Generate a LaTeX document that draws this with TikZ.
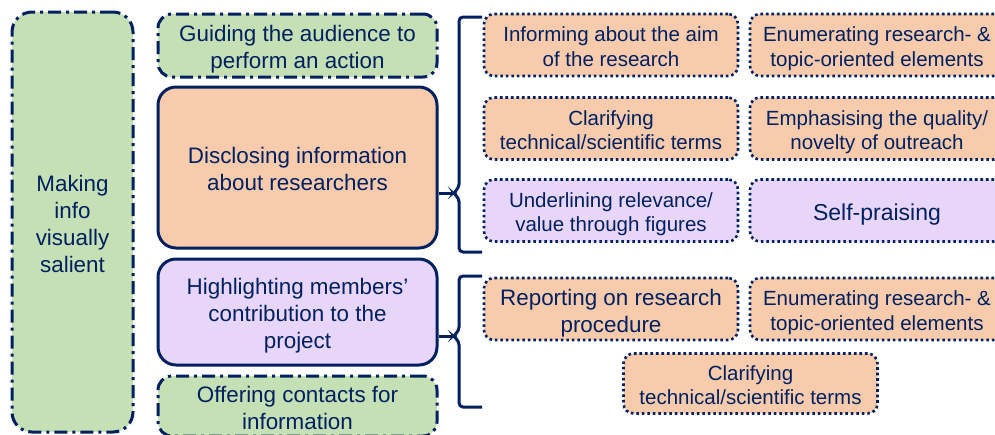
\documentclass[tikz,border=0pt]{standalone}
\usepackage{fontspec}
\setmainfont{Liberation Sans}
\definecolor{navy}{HTML}{002060}
\definecolor{grn}{HTML}{C5E0B4}
\definecolor{org}{HTML}{F8CBAD}
\definecolor{lil}{HTML}{E8D6FA}
% full ascent / descent of a text line
\newcommand{\lineasc}{\rule{0pt}{1.1em}}
\newcommand{\linedesc}{\rule[-0.212em]{0pt}{0pt}}

\begin{document}
\begin{tikzpicture}[
  x=1pt,y=-1pt,
  every node/.style={text=navy,align=center,inner sep=0pt},
  big/.style={font=\fontsize{22.4}{27}\selectfont},
  small/.style={font=\fontsize{20.5}{24.5}\selectfont},
  solidbox/.style={draw=navy,line width=3pt,rounded corners=18pt,
                   minimum width=279pt},
  dashbox/.style={draw=navy,line width=3pt,rounded corners=14pt,fill=grn,
                  dash pattern=on 13pt off 5pt on 3pt off 5pt},
  dotbox/.style={draw=navy,line width=2.6pt,rounded corners=10pt,
                 dash pattern=on 2.6pt off 2.9pt,
                 minimum width=254pt,minimum height=62pt},
  brk/.style={draw=navy,line width=3pt,rounded corners=4pt}
]
\useasboundingbox (0,0) rectangle (995,434);

% Left column
\node[dashbox,big,rounded corners=20pt,minimum width=121pt,
      minimum height=420pt] (salient) at (72.5,222)
  {\lineasc Making\\info\\visually\\salient\linedesc};

% Middle column
\node[dashbox,big,minimum width=279pt,minimum height=63pt] (guide)
  at (297.5,45.5) {\lineasc Guiding the audience to\\perform an action\linedesc};
\node[solidbox,big,fill=org,minimum height=161pt] (disclose)
  at (297.5,167.5) {\lineasc Disclosing information\\about researchers\linedesc};
\node[solidbox,big,fill=lil,minimum height=106pt] (members)
  at (297.5,312) {\lineasc Highlighting members'\\contribution to the\\project\linedesc};
\node[dashbox,big,minimum width=279pt,minimum height=60pt] (contacts)
  at (297.5,406) {\lineasc Offering contacts for\\information\linedesc};

% ---- Strategies for disclosing ----
\node[dotbox,small,fill=org] (aim)     at (611,45)
  {\lineasc Informing about the aim\\of the research\linedesc};
\node[dotbox,small,fill=org] (enumA)   at (877,45)
  {\lineasc Enumerating research- \&\\topic-oriented elements\linedesc};
\node[dotbox,small,fill=org] (termsA)  at (611,128.5)
  {\lineasc Clarifying\\technical/scientific terms\linedesc};
\node[dotbox,small,fill=org] (quality) at (877,128.5)
  {\lineasc Emphasising the quality/\\novelty of outreach\linedesc};
\node[dotbox,small,fill=lil] (figures) at (611,210.5)
  {\lineasc Underlining relevance/\\value through figures\linedesc};
\node[dotbox,fill=lil,font=\fontsize{23}{27}\selectfont] (praise)
  at (877,210.5) {\lineasc Self-praising\linedesc};

% ---- Strategies for members ----
\node[dotbox,big,fill=org] (procedure) at (611,309)
  {\lineasc Reporting on research\\procedure\linedesc};
\node[dotbox,small,fill=org] (enumB)   at (877,309)
  {\lineasc Enumerating research- \&\\topic-oriented elements\linedesc};
\node[dotbox,small,fill=org,minimum height=60pt] (termsB) at (750.5,383.5)
  {\lineasc Clarifying\\technical/scientific terms\linedesc};

% Brackets
\coordinate (tipA) at (453,193);
\draw[brk] (482,17) -- (459,17) -- (459,188) -- (tipA) -- (459,198)
  -- (459,252) -- (482,252);
\draw[brk] (disclose.east |- tipA) -- (tipA);

\coordinate (tipB) at (453,336);
\draw[brk] (482,276) -- (459,276) -- (459,331) -- (tipB) -- (459,341)
  -- (459,407) -- (482,407);
\draw[brk] (members.east |- tipB) -- (tipB);

\end{tikzpicture}
\end{document}
